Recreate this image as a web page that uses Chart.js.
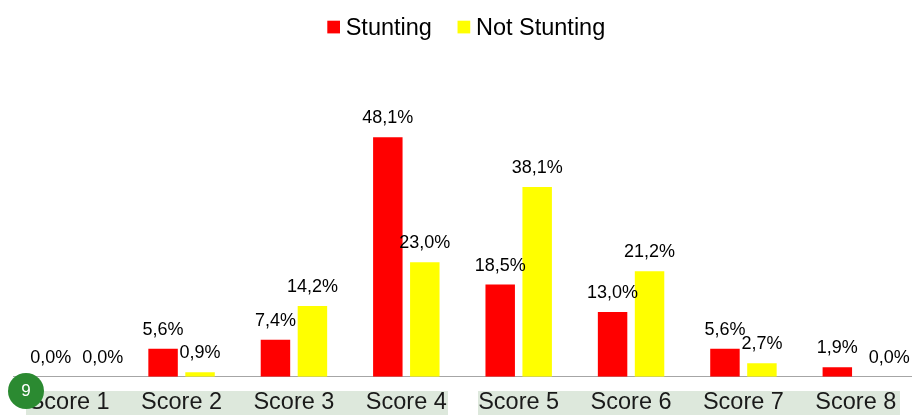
<!DOCTYPE html>
<html>
<head>
<meta charset="utf-8">
<script src="https://cdn.jsdelivr.net/npm/chart.js@4"></script>
<style>
  html, body { margin: 0; padding: 0; background: #fff; }
  #wrap { width: 912px; height: 415px; }
</style>
</head>
<body>
<div id="wrap"><canvas id="grafico" width="912" height="415"></canvas></div>
<script>
const categorias = ['Score 1', 'Score 2', 'Score 3', 'Score 4', 'Score 5', 'Score 6', 'Score 7', 'Score 8'];
const stunting = [0.0, 5.6, 7.4, 48.1, 18.5, 13.0, 5.6, 1.9];
const notStunting = [0.0, 0.9, 14.2, 23.0, 38.1, 21.2, 2.7, 0.0];
const nomes = ['Stunting', 'Not Stunting'];
const cores = ['#FF0000', '#FFFF00'];
const slideNum = '9';

const FONTE = '"Liberation Sans", Arial, sans-serif';
const fmt = v => v.toFixed(1).replace('.', ',') + '%';

// faixa verde atras dos rotulos do eixo (realce do slide)
const fundoPlugin = {
    id: 'fundo',
    beforeDraw(chart) {
        const c = chart.ctx;
        c.save();
        c.fillStyle = '#DDE8DC';
        c.fillRect(26, 391, 422, 24);
        c.fillRect(478, 391, 422, 24);
        c.restore();
    }
};

// rotulos de valor em cima das barras; se colidir com o da barra vizinha, empurra pra direita
const rotulosPlugin = {
    id: 'rotulos',
    afterDatasetsDraw(chart) {
        const c = chart.ctx;
        c.save();
        c.font = '18px ' + FONTE;
        c.fillStyle = '#000';
        c.textAlign = 'center';
        c.textBaseline = 'alphabetic';
        const metas = chart.data.datasets.map((ds, i) => chart.getDatasetMeta(i).data);
        categorias.forEach((_, j) => {
            let ant = null;
            chart.data.datasets.forEach((ds, i) => {
                const bar = metas[i][j];
                const txt = fmt(ds.data[j]);
                const w = c.measureText(txt).width;
                let x = bar.x, y = bar.y - 14;
                if (ant && Math.abs(ant.y - y) < 14 && x - w / 2 < ant.fim + 11) {
                    x = ant.fim + 11 + w / 2;
                }
                c.fillText(txt, x, y);
                ant = { y, fim: x + w / 2 };
            });
        });
        c.restore();
    }
};

// legenda desenhada a mao + bolinha do numero do slide
const extrasPlugin = {
    id: 'extras',
    afterDraw(chart) {
        const c = chart.ctx;
        c.save();
        c.font = '23.5px ' + FONTE;
        c.textBaseline = 'alphabetic';
        let x = 327.3;
        chart.data.datasets.forEach(ds => {
            c.fillStyle = ds.backgroundColor;
            c.fillRect(x, 20.7, 12.7, 12.7);
            x += 12.7 + 5.7;
            c.fillStyle = '#000';
            c.fillText(ds.label, x, 34.5);
            x += c.measureText(ds.label).width + 25.6;
        });

        c.beginPath();
        c.arc(26, 391, 18, 0, Math.PI * 2);
        c.fillStyle = '#2B8A31';
        c.fill();
        c.fillStyle = '#fff';
        c.font = '17px ' + FONTE;
        c.textAlign = 'center';
        c.textBaseline = 'middle';
        c.fillText(slideNum, 26, 391);
        c.restore();
    }
};

new Chart(document.getElementById('grafico'), {
    type: 'bar',
    data: {
        labels: categorias,
        datasets: [
            { label: nomes[0], data: stunting, backgroundColor: cores[0], borderWidth: 0 },
            { label: nomes[1], data: notStunting, backgroundColor: cores[1], borderWidth: 0 }
        ]
    },
    options: {
        responsive: false,
        animation: false,
        categoryPercentage: 0.658,
        barPercentage: 0.797,
        layout: { padding: { top: 78, left: 13, right: 0, bottom: -12.5 } },
        plugins: { legend: { display: false }, tooltip: { enabled: false } },
        scales: {
            x: {
                grid: { display: false, drawTicks: false },
                border: { display: true, color: '#A6A6A6', width: 1 },
                ticks: { color: '#1A1A1A', padding: 12.5, font: { family: FONTE, size: 23.5, lineHeight: 1.1 } }
            },
            y: { display: false, min: 0, max: 60 }
        }
    },
    plugins: [fundoPlugin, rotulosPlugin, extrasPlugin]
});
</script>
</body>
</html>
